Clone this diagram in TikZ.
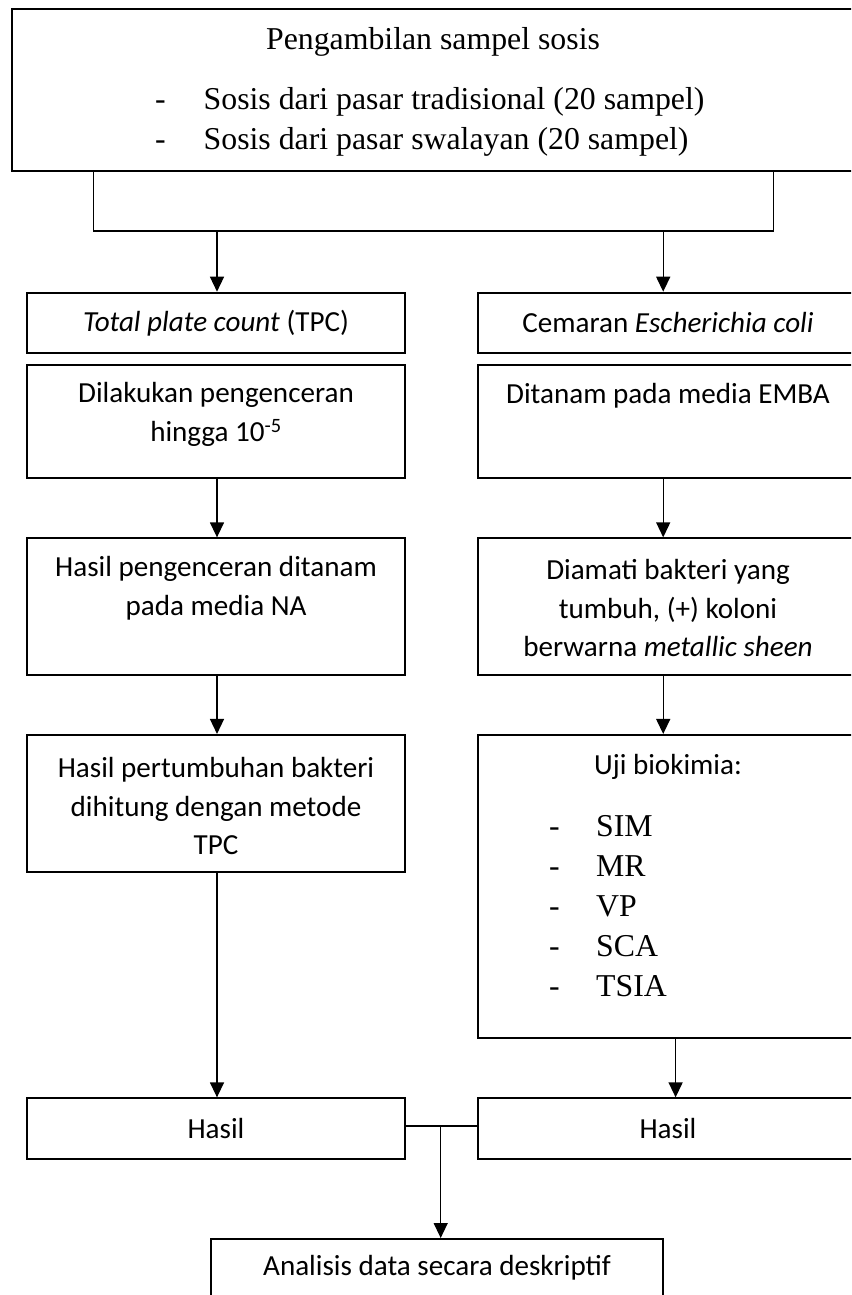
\documentclass[tikz,border=0pt]{standalone}
\usepackage{fontspec}
\setmainfont{Liberation Serif}
\newfontfamily\calfont{Carlito}
\usetikzlibrary{arrows.meta}
\begin{document}
\begin{tikzpicture}[x=1pt,y=-1pt,
  box/.style={draw, line width=2pt, inner sep=0pt, minimum width=378pt},
  cal/.style={font=\calfont\fontsize{29.1}{38.6}\selectfont, align=center, inner sep=0pt},
  tnr/.style={font=\fontsize{31.8}{40}\selectfont, inner sep=0pt},
  conn/.style={line width=1.4pt},
  arr/.style={conn, -{Triangle[length=15pt,width=14pt]}}
]
\useasboundingbox (0,0) rectangle (851,1295);
\clip (0,0) rectangle (851,1295);
% boxes
\node[box, minimum width=842pt, minimum height=161.7pt] (top) at (433,90.2) {};
\node[box, minimum height=60pt] (tpc) at (216,322.7) {};
\node[box, minimum height=60pt] (cem) at (666.6,322.7) {};
\node[box, minimum height=113.3pt] (dil) at (216,421.7) {};
\node[box, minimum height=113.3pt] (tan) at (666.6,421.7) {};
\node[box, minimum height=136.7pt] (hpg) at (216,606.7) {};
\node[box, minimum height=136.7pt] (dia) at (666.6,606.7) {};
\node[box, minimum height=136.7pt] (hpt) at (216,803.3) {};
\node[box, minimum height=302.7pt] (uji) at (666.6,886.3) {};
\node[box, minimum height=60.7pt] (hsL) at (216,1128.7) {};
\node[box, minimum height=60.7pt] (hsR) at (666.6,1128.7) {};
\node[box, minimum width=452.6pt, minimum height=61pt] (ana) at (436.9,1269.5) {};
% texts
\node[tnr] (ttl) at (433,41.7) {Pengambilan sampel sosis};
\node[tnr, anchor=west, align=left] (lst) at (155,121.7)
  {\makebox[48.5pt][l]{-}Sosis dari pasar tradisional (20 sampel)\\
   \makebox[48.5pt][l]{-}Sosis dari pasar swalayan (20 sampel)};
\node[cal] (tTPC) at (216,323) {\textit{Total plate count} (TPC)};
\node[cal] (tCem) at (668,323) {Cemaran \textit{Escherichia coli}};
\node[cal] (tDil) at (216,414.5) {Dilakukan pengenceran\\hingga 10\textsuperscript{-5}};
\node[cal] (tTan) at (668,396) {Ditanam pada media EMBA};
\node[cal] (tHpg) at (216,588.5) {Hasil pengenceran ditanam\\pada media NA};
\node[cal] (tDia) at (668,608) {Diamati bakteri yang\\tumbuh, (+) koloni\\berwarna \textit{metallic sheen}};
\node[cal] (tHpt) at (216,806) {Hasil pertumbuhan bakteri\\dihitung dengan metode\\TPC};
\node[cal] (tUji) at (668,766.7) {Uji biokimia:};
\node[tnr, anchor=west, align=left] (tLst) at (549,906.4)
  {\makebox[47pt][l]{-}SIM\\
   \makebox[47pt][l]{-}MR\\
   \makebox[47pt][l]{-}VP\\
   \makebox[47pt][l]{-}SCA\\
   \makebox[47pt][l]{-}TSIA};
\node[cal] (tHL) at (216,1128) {Hasil};
\node[cal] (tHR) at (668,1128) {Hasil};
\node[cal] (tAna) at (437,1268) {Analisis data secara deskriptif};
% connectors
\coordinate (jL) at (93.4,231);
\coordinate (jR) at (773.4,231);
\draw[conn] (top.south -| jL) -- (jL) -- (jR) -- (top.south -| jR);
\draw[arr] ([xshift=1pt]tpc.north |- jL) -- ([xshift=1pt]tpc.north);
\draw[arr] ([xshift=-3.4pt]cem.north |- jL) -- ([xshift=-3.4pt]cem.north);
\draw[arr] ([xshift=1pt]dil.south) -- ([xshift=1pt]hpg.north);
\draw[arr] ([xshift=-3.4pt]tan.south) -- ([xshift=-3.4pt]dia.north);
\draw[arr] ([xshift=1pt]hpg.south) -- ([xshift=1pt]hpt.north);
\draw[arr] ([xshift=-3.4pt]dia.south) -- ([xshift=-3.4pt]uji.north);
\draw[arr] ([xshift=1pt]hpt.south) -- ([xshift=1pt]hsL.north);
\draw[arr] ([xshift=9pt]uji.south) -- ([xshift=9pt]hsR.north);
\coordinate (jM) at (440.7,1126);
\draw[conn] (hsL.east |- jM) -- (hsR.west |- jM);
\draw[arr] (jM) -- (jM |- ana.north);
\end{tikzpicture}
\end{document}
